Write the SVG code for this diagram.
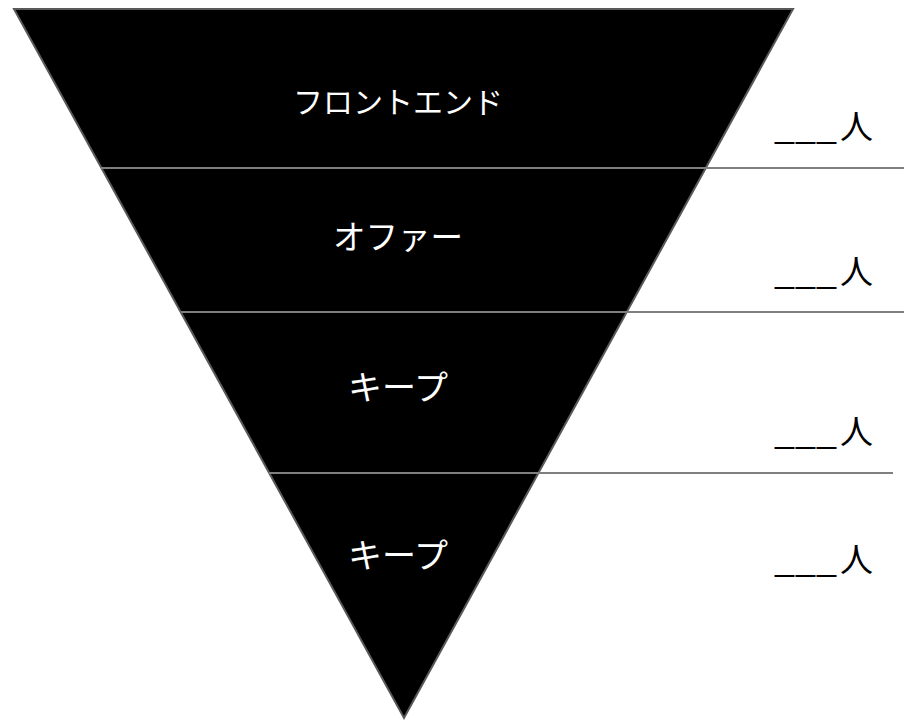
<svg xmlns="http://www.w3.org/2000/svg" width="904" height="721" viewBox="0 0 904 721">
<style>
.tri{fill:#000;stroke:#595959;stroke-width:2;stroke-linejoin:miter}
.sep{stroke:#7f7f7f;stroke-width:2;fill:none}
.lbl{fill:#fff;font-family:"Noto Sans CJK JP","Noto Sans",sans-serif;font-weight:400;text-anchor:middle}
.cnt{fill:#000;font-family:"Noto Sans CJK JP","Noto Sans",sans-serif;font-weight:400;font-size:33px}
</style>
<rect width="904" height="721" fill="#fff"/>
<g id="funnel">
<polygon class="tri" points="14,9 793,9 404,718"/>
</g>
<g id="connectors">
<line class="sep" x1="101" y1="168" x2="904" y2="168"/>
<line class="sep" x1="181" y1="312" x2="904" y2="312"/>
<line class="sep" x1="269" y1="473" x2="893" y2="473"/>
</g>
<g id="tier1"><text class="lbl" x="398" y="113" font-size="30">フロントエンド</text></g>
<g id="tier2"><text class="lbl" x="398" y="249" font-size="32.5">オファー</text></g>
<g id="tier3"><text class="lbl" x="398" y="400" font-size="34">キープ</text></g>
<g id="tier4"><text class="lbl" x="398" y="568" font-size="34">キープ</text></g>
<g id="count1"><text class="cnt" y="139"><tspan x="774" textLength="63" lengthAdjust="spacingAndGlyphs">___</tspan><tspan x="840">人</tspan></text></g>
<g id="count2"><text class="cnt" y="284"><tspan x="774" textLength="63" lengthAdjust="spacingAndGlyphs">___</tspan><tspan x="840">人</tspan></text></g>
<g id="count3"><text class="cnt" y="444"><tspan x="774" textLength="63" lengthAdjust="spacingAndGlyphs">___</tspan><tspan x="840">人</tspan></text></g>
<g id="count4"><text class="cnt" y="572"><tspan x="774" textLength="63" lengthAdjust="spacingAndGlyphs">___</tspan><tspan x="840">人</tspan></text></g>
</svg>
